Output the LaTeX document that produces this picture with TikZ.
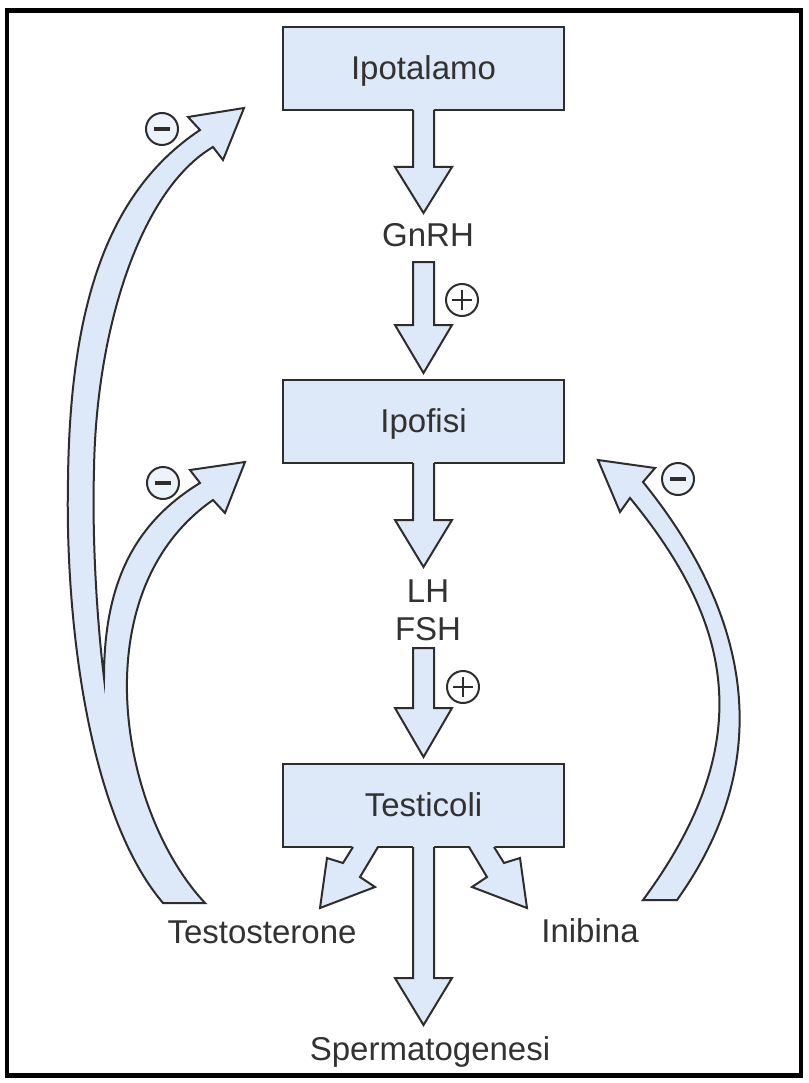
\documentclass[tikz,border=0pt]{standalone}
\usepackage{fontspec}
\setmainfont{Liberation Sans}
\definecolor{blu}{RGB}{221,233,248}
\definecolor{ink}{RGB}{45,45,45}
\definecolor{txt}{RGB}{50,50,50}
\newcommand{\blkdown}[4]{%
  \fill[blu] (#1-10.5,#2) -- (#1-10.5,#3) -- (#1-28.5,#3) -- (#1,#4) -- (#1+28.5,#3) -- (#1+10.5,#3) -- (#1+10.5,#2) -- cycle;
  \draw[arrline] (#1-10.5,#2) -- (#1-10.5,#3) -- (#1-28.5,#3) -- (#1,#4) -- (#1+28.5,#3) -- (#1+10.5,#3) -- (#1+10.5,#2) -- cycle;}
\newcommand{\blkdownbox}[4]{%
  \fill[blu] (#1-10.5,#2-1.8) -- (#1-10.5,#3) -- (#1-28.5,#3) -- (#1,#4) -- (#1+28.5,#3) -- (#1+10.5,#3) -- (#1+10.5,#2-1.8) -- cycle;
  \draw[arrline] (#1-10.5,#2) -- (#1-10.5,#3) -- (#1-28.5,#3) -- (#1,#4) -- (#1+28.5,#3) -- (#1+10.5,#3) -- (#1+10.5,#2);}
\newcommand{\plusmark}[3]{%
  \node[sign, fill=white] (#1) at (#2,#3) {};
  \draw[ink, line width=2.4pt] (#2-10,#3) -- (#2+10,#3) (#2,#3-10) -- (#2,#3+10);}
\newcommand{\minusmark}[3]{%
  \node[sign, fill=blu!55] (#1) at (#2,#3) {};
  \draw[ink, line width=3.6pt] (#2-8,#3) -- (#2+8,#3);}
\begin{document}
\begin{tikzpicture}[x=1pt,y=-1pt,
  box/.style={draw=ink, line width=2.2pt, fill=blu, minimum width=281pt, minimum height=83pt,
    inner sep=0pt, text height=22pt, text depth=0pt, font=\fontsize{33}{38}\selectfont, text=txt},
  lbl/.style={font=\fontsize{33}{38}\selectfont, text=txt, inner sep=0pt, anchor=base},
  arrline/.style={draw=ink, line width=2pt, line join=miter, miter limit=20},
  sign/.style={circle, draw=ink, line width=2pt, minimum size=32pt, inner sep=0pt},
]
\fill[white] (0,0) rectangle (808,1083);
\useasboundingbox (0,0) rectangle (808,1083);
\draw[line width=4.5pt] (7,10.5) rectangle (801,1075.5);

% boxes
\node[box] (ipot) at (423.5,68.5) {Ipotalamo};
\node[box] (ipof) at (423.5,421.5) {Ipofisi};
\node[box] (test) at (423.5,805.5) {Testicoli};

% straight block arrows
\blkdownbox{423.5}{110}{167}{213}
\blkdown{423.5}{262}{325}{373}
\blkdownbox{423.5}{463}{520}{567}
\blkdown{423.5}{648}{708}{757}
\blkdownbox{423.5}{847}{978}{1025}

% branch arrows from Testicoli
\fill[blu] (353,845) -- (343,863) -- (327,858) -- (320,908) -- (375,887) -- (360,877) -- (378,845) -- cycle;
\draw[arrline] (353,847) -- (343,863) -- (327,858) -- (320,908) -- (375,887) -- (360,877) -- (378,847);
\fill[blu] (494,845) -- (504,863) -- (520,858) -- (527,908) -- (472,887) -- (487,877) -- (469,845) -- cycle;
\draw[arrline] (494,847) -- (504,863) -- (520,858) -- (527,908) -- (472,887) -- (487,877) -- (469,847);

% right feedback arc (Inibina -> Ipofisi)
\filldraw[fill=blu, arrline] (643,900) -- (677,900) .. controls (787,746) and (737,598) .. (643,482)
  -- (655,468) -- (598,460) -- (620,512) -- (630,498) .. controls (731,621) and (761,740) .. (643,900) -- cycle;

% left feedback arcs (Testosterone -> Ipofisi, Ipotalamo)
\filldraw[fill=blu, arrline] (163,903) -- (205,903) .. controls (118,810) and (82,591) .. (213,500)
  -- (225,513) -- (245,462) -- (190,470) -- (200,483)
  .. controls (131,525) and (104,588) .. (104,678)
  .. controls (97,620) and (92,540) .. (94,470)
  .. controls (96,330) and (140,190) .. (213,147)
  -- (223,160) -- (244,108) -- (188,117) -- (200,130)
  .. controls (110,190) and (70,300) .. (68,480)
  .. controls (65,620) and (88,815) .. (163,903) -- cycle;

% labels
\node[lbl] (gnrh) at (428,247) {GnRH};
\node[lbl] (lh) at (428,602) {LH};
\node[lbl] (fsh) at (428,640) {FSH};
\node[lbl] (testo) at (262,943) {Testosterone};
\node[lbl] (inib) at (590,942) {Inibina};
\node[lbl] (sperm) at (430,1060) {Spermatogenesi};

% signs
\plusmark{p1}{462}{300}
\plusmark{p2}{463}{687}
\minusmark{m1}{162}{129}
\minusmark{m2}{163}{483}
\minusmark{m3}{678}{479}
\end{tikzpicture}
\end{document}
